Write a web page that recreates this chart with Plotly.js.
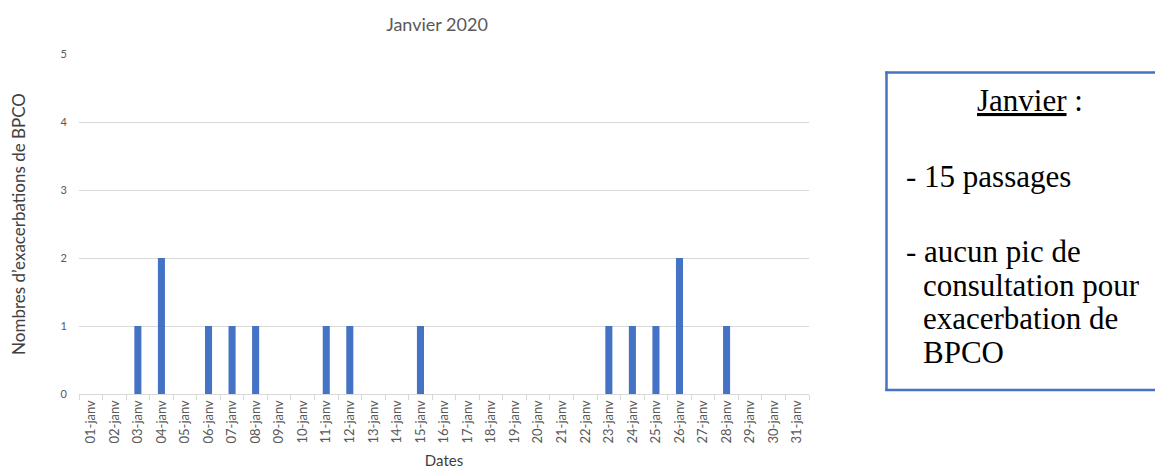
<!DOCTYPE html>
<html>
<head>
<meta charset="utf-8">
<script src="https://cdn.plot.ly/plotly-3.0.1.min.js"></script>
<style>html,body{margin:0;padding:0;background:#fff;overflow:hidden;}#chart{width:1155px;height:472px;}</style>
</head>
<body>
<div id="chart"></div>
<script>
const dates = ["01-janv","02-janv","03-janv","04-janv","05-janv","06-janv","07-janv","08-janv","09-janv","10-janv","11-janv","12-janv","13-janv","14-janv","15-janv","16-janv","17-janv","18-janv","19-janv","20-janv","21-janv","22-janv","23-janv","24-janv","25-janv","26-janv","27-janv","28-janv","29-janv","30-janv","31-janv"];
const exacerbations = [0,0,1,2,0,1,1,1,0,0,1,1,0,0,1,0,0,0,0,0,0,0,1,1,1,2,0,1,0,0,0];
const yTicks = [0,1,2,3,4,5];
const chartTitle = "Janvier 2020";
const xTitle = "Dates";
const yTitle = "Nombres d’exacerbations de BPCO";
const boxHeading = "<u>Janvier</u> :";
const boxLines = ["- 15 passages", "- aucun pic de", "consultation pour", "exacerbation de", "BPCO"];

const W = 1155, H = 472;
const L = 79, R = 809, T = 54, B = 394;
const px = x => (x - L) / (R - L);
const py = y => (B - y) / (B - T);

const serif = {family: "Liberation Serif, Times New Roman, serif", size: 31, color: "#000"};
const annotations = [
  {text: boxHeading, x: px(1030), y: py(101), xref: "paper", yref: "paper", xanchor: "center", yanchor: "middle", showarrow: false, font: serif},
  {text: boxLines[0], x: px(904), y: py(176), xref: "paper", yref: "paper", xanchor: "left", yanchor: "middle", showarrow: false, font: serif},
  {text: boxLines[1], x: px(904), y: py(252), xref: "paper", yref: "paper", xanchor: "left", yanchor: "middle", showarrow: false, font: serif},
  {text: boxLines[2], x: px(921), y: py(285), xref: "paper", yref: "paper", xanchor: "left", yanchor: "middle", showarrow: false, font: serif},
  {text: boxLines[3], x: px(921), y: py(318), xref: "paper", yref: "paper", xanchor: "left", yanchor: "middle", showarrow: false, font: serif},
  {text: boxLines[4], x: px(921), y: py(352), xref: "paper", yref: "paper", xanchor: "left", yanchor: "middle", showarrow: false, font: serif}
];

const trace = {
  type: "bar",
  x: dates,
  y: exacerbations,
  width: 0.3,
  marker: {color: "#4472c4"},
  hoverinfo: "x+y"
};

const boxLine = {color: "#4472c4", width: 2.5};
const layout = {
  width: W, height: H,
  margin: {l: L, r: W - R, t: T, b: H - B, pad: 0},
  paper_bgcolor: "#fff",
  plot_bgcolor: "#fff",
  showlegend: false,
  font: {family: "Lato, Open Sans, sans-serif", color: "#595959"},
  title: {text: chartTitle, xref: "container", x: 437 / W, xanchor: "center", y: 1 - 25 / H, yanchor: "middle", font: {size: 18, color: "#595959", family: "Lato, Open Sans, sans-serif"}},
  xaxis: {
    type: "category",
    tickangle: -90,
    tickfont: {size: 13, color: "#595959"},
    ticks: "outside",
    tickson: "boundaries",
    ticklen: 5,
    tickcolor: "#d9d9d9",
    showline: true,
    linecolor: "#d9d9d9",
    linewidth: 1,
    showgrid: false,
    zeroline: false,
    title: {text: xTitle, font: {size: 15, color: "#404040"}, standoff: 12}
  },
  yaxis: {
    range: [0, 5],
    tickvals: yTicks,
    tickfont: {size: 11, color: "#595959"},
    ticks: "outside",
    ticklen: 9,
    tickcolor: "rgba(0,0,0,0)",
    showgrid: true,
    gridcolor: "#d9d9d9",
    gridwidth: 1,
    showline: false,
    zeroline: false,
    title: {text: yTitle, font: {size: 17, color: "#404040"}, standoff: 30}
  },
  shapes: [
    {type: "line", xref: "paper", yref: "paper", x0: px(886.5), x1: px(886.5), y0: py(391), y1: py(71.5), line: boxLine},
    {type: "line", xref: "paper", yref: "paper", x0: px(885.3), x1: px(1160), y0: py(72.5), y1: py(72.5), line: boxLine},
    {type: "line", xref: "paper", yref: "paper", x0: px(885.3), x1: px(1160), y0: py(390), y1: py(390), line: boxLine}
  ],
  annotations: annotations
};

Plotly.newPlot("chart", [trace], layout, {displayModeBar: false, staticPlot: true});
</script>
</body>
</html>
